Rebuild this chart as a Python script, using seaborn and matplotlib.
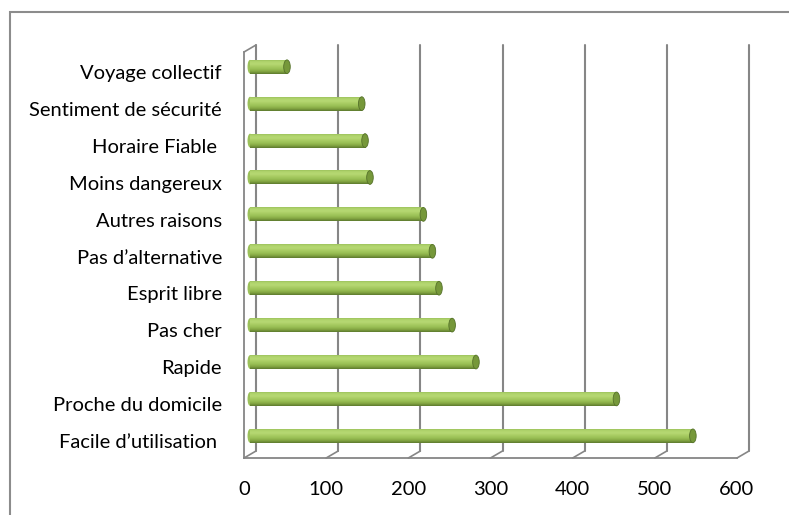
import numpy as np
import pandas as pd
import seaborn as sns
import matplotlib.pyplot as plt
from matplotlib import transforms
from matplotlib.patches import Ellipse, Rectangle
from matplotlib.colors import to_rgb

# values
categories = ["Voyage collectif", "Sentiment de sécurité", "Horaire Fiable ",
              "Moins dangereux", "Autres raisons", "Pas d’alternative",
              "Esprit libre", "Pas cher", "Rapide", "Proche du domicile",
              "Facile d’utilisation "]
values = [45, 136, 140, 146, 211, 222, 230, 246, 275, 446, 539]
x_ticks = [0, 100, 200, 300, 400, 500, 600]

GRAY = "#868686"
DPI = 100

sns.set_style("white")
plt.rcParams["font.family"] = ["Lato", "DejaVu Sans"]

df = pd.DataFrame({"raison": categories, "n": values})

fig = plt.figure(figsize=(7.89, 5.15), dpi=DPI)
# front plane of the pseudo-3D plot area
ax = fig.add_axes([244 / 789, 57 / 515, 493 / 789, 406 / 515])

sns.barplot(data=df, x="n", y="raison", orient="h", width=0.38,
            color="#9bbb59", saturation=1, ax=ax)

# depth offsets (pixels): bars sit in the middle, gridlines at the back wall
bar_tr = transforms.offset_copy(ax.transData, fig=fig, x=6, y=3.7, units="dots")
back_tr = transforms.offset_copy(ax.transData, fig=fig, x=12, y=7, units="dots")

# cylinder-like shading on each bar
stops = ["#93b955", "#b0d46c", "#b6d873", "#a8cc62", "#99bf55", "#84a743", "#5e7b2e"]
rgb = np.array([to_rgb(c) for c in stops])
pos = np.linspace(0, 1, len(stops))
rows = np.linspace(0, 1, 40)
grad = np.stack([np.interp(rows, pos, rgb[:, k]) for k in range(3)], axis=-1)
grad = grad[:, None, :]

for p in list(ax.patches):
    x0, y0, w, h = p.get_x(), p.get_y(), p.get_width(), p.get_height()
    p.set_transform(bar_tr)
    p.set_edgecolor("none")
    im = ax.imshow(grad, extent=(x0, x0 + w, y0 + h, y0), origin="upper",
                   aspect="auto", interpolation="bilinear", transform=bar_tr,
                   zorder=p.get_zorder() + 0.1)
    im.set_clip_path(p)
    cap = Ellipse((x0 + w, y0 + h / 2), width=8, height=h * 0.98,
                  transform=bar_tr, facecolor="#76983a", edgecolor="#55712a",
                  linewidth=0.6, zorder=p.get_zorder() + 0.2)
    ax.add_patch(cap)
    lcap = Ellipse((x0, y0 + h / 2), width=6, height=h * 0.98,
                   transform=bar_tr, facecolor="#9cc15a", edgecolor="none",
                   zorder=p.get_zorder() + 0.05)
    ax.add_patch(lcap)

ax.set_xlim(0, 600)
ax.set_ylim(len(categories) - 0.5, -0.5)

# back-wall gridlines and floor connectors
ytop, ybot = -0.5, len(categories) - 0.5
for xt in x_ticks:
    ax.plot([xt, xt], [ybot, ytop], transform=back_tr, color=GRAY,
            lw=1.5, zorder=0.5, clip_on=False)
    ax.annotate("", xy=(xt, ybot), xycoords=back_tr, xytext=(xt, ybot),
                textcoords="data",
                arrowprops=dict(arrowstyle="-", color=GRAY, lw=1.2,
                                shrinkA=0, shrinkB=0), annotation_clip=False)
# top of left wall
ax.annotate("", xy=(0, ytop), xycoords=back_tr, xytext=(0, ytop),
            textcoords="data",
            arrowprops=dict(arrowstyle="-", color=GRAY, lw=1.2,
                            shrinkA=0, shrinkB=0), annotation_clip=False)

ax.grid(False)
for s in ["top", "right"]:
    ax.spines[s].set_visible(False)
for s in ["left", "bottom"]:
    ax.spines[s].set_color(GRAY)
    ax.spines[s].set_linewidth(1.3)

ax.set_xticks(x_ticks)
ax.set_xticklabels([str(v) for v in x_ticks])
ax.tick_params(axis="x", which="major", direction="out", length=3, width=1.3,
               color=GRAY, pad=13.5, labelsize=14.5, labelcolor="black")
ax.set_yticks(np.arange(-0.5, len(categories), 1), minor=True)
ax.tick_params(axis="y", which="minor", direction="out", length=4.3,
               width=1.3, color=GRAY)
ax.tick_params(axis="y", which="major", length=0, pad=15.8, labelsize=14.5,
               labelcolor="black")
for lab in ax.get_yticklabels():
    lab.set_transform(lab.get_transform() +
                      transforms.ScaledTranslation(0, -1.5 / DPI, fig.dpi_scale_trans))
ax.set_xlabel("")
ax.set_ylabel("")

# chart frame
fig.patches.append(Rectangle((10 / 789, -0.05), 1.0, 0.05 + (515 - 12) / 515,
                             transform=fig.transFigure, fill=False,
                             edgecolor="#8c8c8c", linewidth=1.5))

fig.savefig("out.png", dpi=DPI)
